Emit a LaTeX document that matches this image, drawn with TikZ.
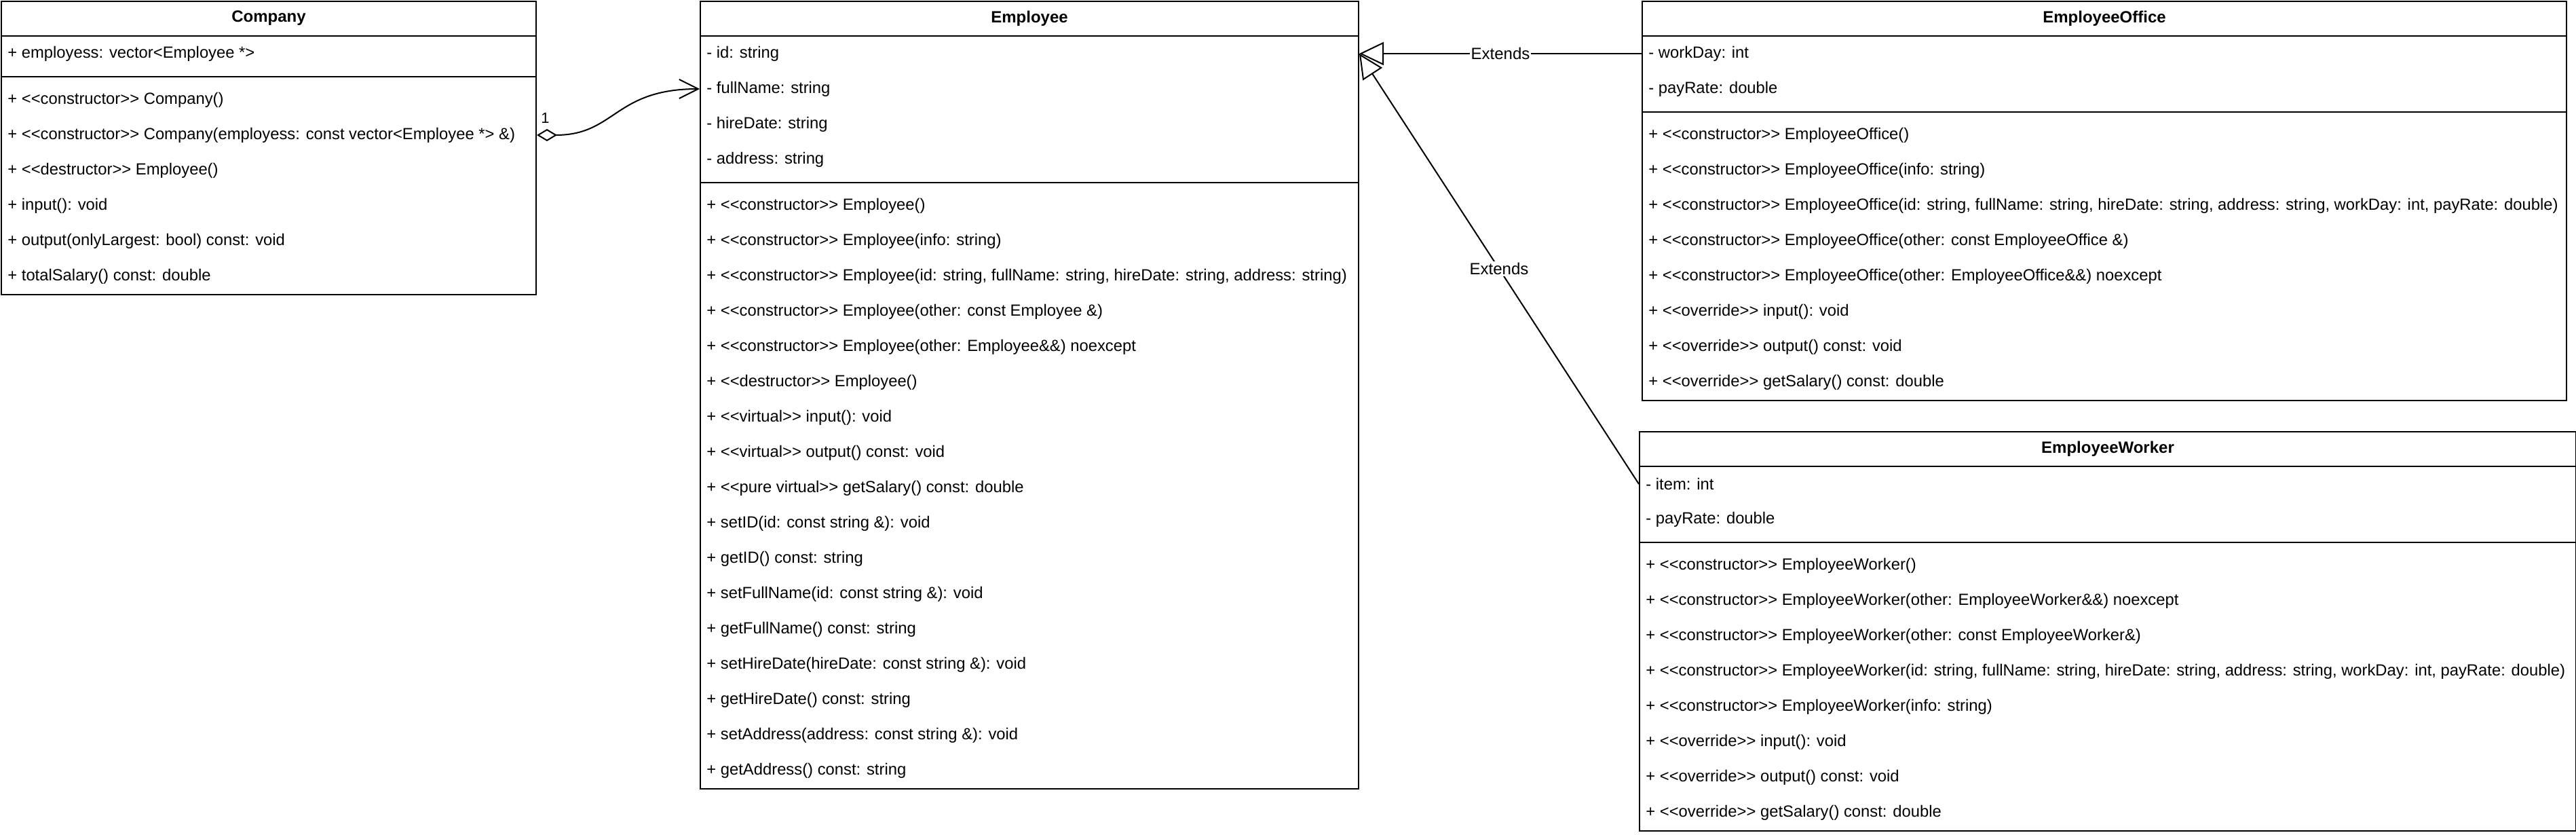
\documentclass[tikz,border=0pt]{standalone}
\usepackage{fontspec}
\setmainfont{Liberation Sans}[Ligatures=TeXOff]
\usepackage{tikz}
\usetikzlibrary{calc}
\usetikzlibrary{arrows.meta}

\tikzset{
  classbox/.style={draw, line width=1pt, rectangle, anchor=north west, inner sep=0pt},
  classname/.style={inner sep=0pt, font=\fontsize{12}{14}\selectfont\bfseries},
  member/.style={anchor=west, inner sep=0pt, font=\fontsize{11.9}{14}\selectfont},
  extlabel/.style={fill=white, inner sep=1pt, font=\fontsize{12}{14}\selectfont},
  ext/.style={line width=1pt, -{Triangle[open,length=18pt,width=17pt]}},
  agg/.style={line width=1pt, {Diamond[open,length=15pt,width=9pt]}-{Straight Barb[length=14pt,width=14pt]}}
}

\begin{document}
\begin{tikzpicture}[x=1pt,y=-1pt]
            \useasboundingbox (-0.5,-0.5) rectangle (1897.5,614.5);

            \node[classbox, minimum width=394pt, minimum height=216pt] (com) at (0,0) {};
            \node[classname] (com-h) at ($(com.north)+(0,13)$) {Company};
            \draw[line width=1pt] ($(com.north west)+(0,26)$) -- ($(com.north east)+(0,26)$);
            \draw[line width=1pt] ($(com.north west)+(0,56)$) -- ($(com.north east)+(0,56)$);
            \node[member] (com-a1) at ($(com.north west)+(5,39)$) {+ employess: vector<Employee *>};
            \foreach \t [count=\i] in {{+ <<constructor>> Company()},
                {+ <<constructor>> Company(employess: const vector<Employee *> \&)},
                {+ <<destructor>> Employee()},
                {+ input(): void},
                {+ output(onlyLargest: bool) const: void},
                {+ totalSalary() const: double}}
                \node[member] (com-m\i) at ($(com.north west)+(5,47+26*\i)$) {\t};

            \node[classbox, minimum width=485pt, minimum height=580pt] (emp) at (515,0) {};
            \node[classname] (emp-h) at ($(emp.north)+(0,13)$) {Employee};
            \draw[line width=1pt] ($(emp.north west)+(0,26)$) -- ($(emp.north east)+(0,26)$);
            \draw[line width=1pt] ($(emp.north west)+(0,134)$) -- ($(emp.north east)+(0,134)$);
            \foreach \t [count=\i] in {{- id: string}, {- fullName: string}, {- hireDate: string}, {- address: string}}
                \node[member] (emp-a\i) at ($(emp.north west)+(5,13+26*\i)$) {\t};
            \foreach \t [count=\i] in {{+ <<constructor>> Employee()},
                {+ <<constructor>> Employee(info: string)},
                {+ <<constructor>> Employee(id: string, fullName: string, hireDate: string, address: string)},
                {+ <<constructor>> Employee(other: const Employee \&)},
                {+ <<constructor>> Employee(other: Employee\&\&) noexcept},
                {+ <<destructor>> Employee()},
                {+ <<virtual>> input(): void},
                {+ <<virtual>> output() const: void},
                {+ <<pure virtual>> getSalary() const: double},
                {+ setID(id: const string \&): void},
                {+ getID() const: string},
                {+ setFullName(id: const string \&): void},
                {+ getFullName() const: string},
                {+ setHireDate(hireDate: const string \&): void},
                {+ getHireDate() const: string},
                {+ setAddress(address: const string \&): void},
                {+ getAddress() const: string}}
                \node[member] (emp-m\i) at ($(emp.north west)+(5,125+26*\i)$) {\t};

            \node[classbox, minimum width=681pt, minimum height=294pt] (off) at (1209,0) {};
            \node[classname] (off-h) at ($(off.north)+(0,13)$) {EmployeeOffice};
            \draw[line width=1pt] ($(off.north west)+(0,26)$) -- ($(off.north east)+(0,26)$);
            \draw[line width=1pt] ($(off.north west)+(0,82)$) -- ($(off.north east)+(0,82)$);
            \foreach \t [count=\i] in {{- workDay: int}, {- payRate: double}}
                \node[member] (off-a\i) at ($(off.north west)+(5,13+26*\i)$) {\t};
            \foreach \t [count=\i] in {{+ <<constructor>> EmployeeOffice()},
                {+ <<constructor>> EmployeeOffice(info: string)},
                {+ <<constructor>> EmployeeOffice(id: string, fullName: string, hireDate: string, address: string, workDay: int, payRate: double)},
                {+ <<constructor>> EmployeeOffice(other: const EmployeeOffice \&)},
                {+ <<constructor>> EmployeeOffice(other: EmployeeOffice\&\&) noexcept},
                {+ <<override>> input(): void},
                {+ <<override>> output() const: void},
                {+ <<override>> getSalary() const: double}}
                \node[member] (off-m\i) at ($(off.north west)+(5,73+26*\i)$) {\t};

            \node[classbox, minimum width=690pt, minimum height=294pt] (wrk) at (1207,317) {};
            \node[classname] (wrk-h) at ($(wrk.north)+(0,13)$) {EmployeeWorker};
            \draw[line width=1pt] ($(wrk.north west)+(0,26)$) -- ($(wrk.north east)+(0,26)$);
            \draw[line width=1pt] ($(wrk.north west)+(0,82)$) -- ($(wrk.north east)+(0,82)$);
            \foreach \t [count=\i] in {{- item: int}, {- payRate: double}}
                \node[member] (wrk-a\i) at ($(wrk.north west)+(5,13+26*\i)$) {\t};
            \foreach \t [count=\i] in {{+ <<constructor>> EmployeeWorker()},
                {+ <<constructor>> EmployeeWorker(other: EmployeeWorker\&\&) noexcept},
                {+ <<constructor>> EmployeeWorker(other: const EmployeeWorker\&)},
                {+ <<constructor>> EmployeeWorker(id: string, fullName: string, hireDate: string, address: string, workDay: int, payRate: double)},
                {+ <<constructor>> EmployeeWorker(info: string)},
                {+ <<override>> input(): void},
                {+ <<override>> output() const: void},
                {+ <<override>> getSalary() const: double}}
                \node[member] (wrk-m\i) at ($(wrk.north west)+(5,73+26*\i)$) {\t};

            \coordinate (aggS) at ($(com.north east)+(0,99)$);
            \coordinate (aggE) at ($(emp.north west)+(0,65)$);
            \draw[agg] (aggS) .. controls ($(aggS)+(58,0)$) and ($(aggE)+(-63,0)$) .. (aggE);
            \node[anchor=south west, inner sep=0pt, font=\fontsize{11}{13}\selectfont] (one) at ($(aggS)+(3,-8.5)$) {1};

            \coordinate (empTip) at ($(emp.north east)+(0,39)$);
            \coordinate (offIn) at ($(off.north west)+(0,39)$);
            \coordinate (wrkIn) at ($(wrk.north west)+(0,39)$);
            \draw[ext] (offIn) -- node[extlabel] (ext1) {Extends} (empTip);
            \draw[ext] (wrkIn) -- node[extlabel] (ext2) {Extends} (empTip);
\end{tikzpicture}
\end{document}
